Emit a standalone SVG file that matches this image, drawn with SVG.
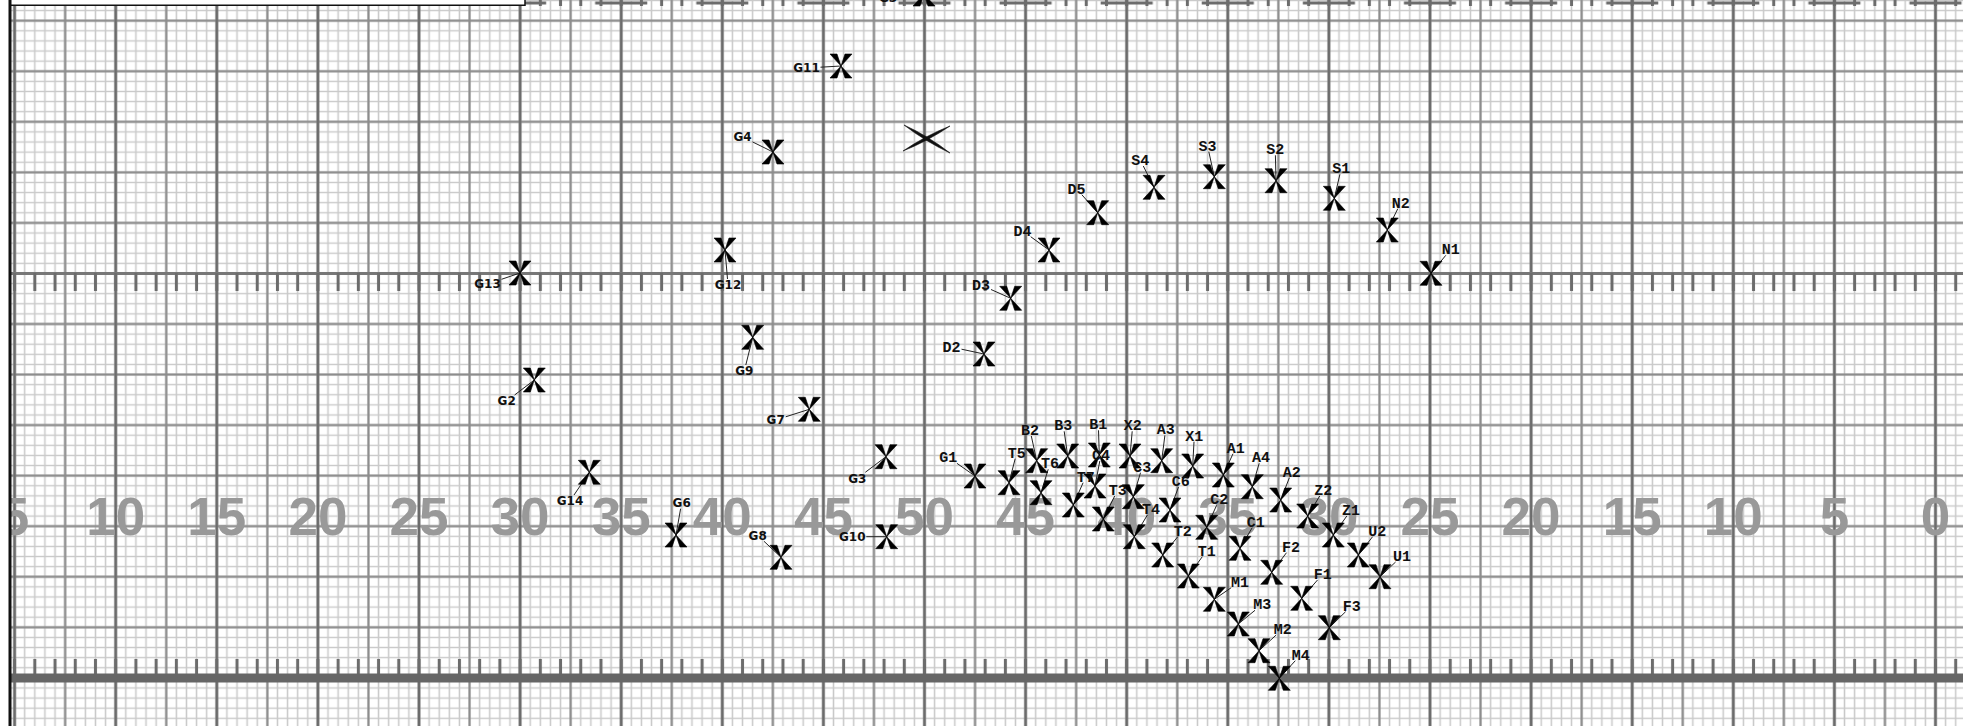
<svg xmlns="http://www.w3.org/2000/svg" xmlns:xlink="http://www.w3.org/1999/xlink" width="1963" height="726" viewBox="0 0 1963 726">
<style>
.m{font-family:"Liberation Mono","DejaVu Sans Mono",monospace;font-weight:bold;font-size:15px;fill:#111;text-anchor:middle}
.g{font-family:"DejaVu Sans","Liberation Sans",sans-serif;font-weight:bold;font-size:12px;fill:#111;text-anchor:middle}
.num{font-family:"Liberation Sans",Arial,sans-serif;font-weight:bold;font-size:53px;fill:#999;text-anchor:middle}
#leaders line{stroke:#222;stroke-width:1}
</style>
<defs>
<pattern id="pMinor" patternUnits="userSpaceOnUse" x="9.545" y="15.645" width="10.11" height="10.11"><path d="M5.055,0V10.11M0,5.055H10.11" stroke="#c9c9c9" stroke-width="1.5" fill="none"/></pattern>
<pattern id="pMidV" patternUnits="userSpaceOnUse" x="-10.675" y="0" width="50.55" height="20"><path d="M25.275,0V20" stroke="#8c8c8c" stroke-width="2.2"/></pattern>
<pattern id="pMidH" patternUnits="userSpaceOnUse" x="0" y="-4.575" width="20" height="50.55"><path d="M0,25.275H20" stroke="#8c8c8c" stroke-width="2.2"/></pattern>
<pattern id="pDarkV" patternUnits="userSpaceOnUse" x="-35.95" y="0" width="101.1" height="20"><path d="M50.55,0V20" stroke="#6c6c6c" stroke-width="2.6"/></pattern>
<pattern id="pTick" patternUnits="userSpaceOnUse" x="4.49" y="0" width="20.22" height="20"><path d="M10.11,0V20" stroke="#6c6c6c" stroke-width="3"/></pattern>
<pattern id="pTopSeg" patternUnits="userSpaceOnUse" x="-35.95" y="0" width="101.1" height="8"><path d="M24.5,3H76.6" stroke="#6c6c6c" stroke-width="3"/></pattern>
<path id="xm" d="M0,0L-11,-12H-4ZM0,0L4,-12H11ZM0,0L-11,12H-4ZM0,0L4,12H11Z" fill="#000" stroke="#000" stroke-width="0.6"/>
</defs>
<rect width="1963" height="726" fill="#fff"/>
<g id="grid">
<rect x="11" y="0" width="1952" height="726" fill="url(#pMinor)"/>
<rect x="11" y="0" width="1952" height="726" fill="url(#pMidH)"/>
<rect x="11" y="0" width="1952" height="726" fill="url(#pMidV)"/>
<rect x="11" y="0" width="1952" height="726" fill="url(#pDarkV)"/>
</g>
<g id="scale-numbers">
<text class="num" x="14.6" y="535">5</text>
<text class="num" x="115.7" y="535">10</text>
<text class="num" x="216.8" y="535">15</text>
<text class="num" x="317.9" y="535">20</text>
<text class="num" x="419" y="535">25</text>
<text class="num" x="520.1" y="535">30</text>
<text class="num" x="621.2" y="535">35</text>
<text class="num" x="722.3" y="535">40</text>
<text class="num" x="823.4" y="535">45</text>
<text class="num" x="924.5" y="535">50</text>
<text class="num" x="1025.6" y="535">45</text>
<text class="num" x="1126.7" y="535">40</text>
<text class="num" x="1227.8" y="535">35</text>
<text class="num" x="1328.9" y="535">30</text>
<text class="num" x="1430" y="535">25</text>
<text class="num" x="1531.1" y="535">20</text>
<text class="num" x="1632.2" y="535">15</text>
<text class="num" x="1733.3" y="535">10</text>
<text class="num" x="1834.4" y="535">5</text>
<text class="num" x="1935.5" y="535">0</text>
</g>
<g id="rulers">
<rect x="525" y="0" width="1438" height="6" fill="url(#pTick)"/>
<rect x="525" y="0" width="1438" height="8" fill="url(#pTopSeg)"/>
<line x1="11" y1="273.4" x2="1963" y2="273.4" stroke="#777" stroke-width="3"/>
<rect x="11" y="273" width="1952" height="18" fill="url(#pTick)"/>
<rect x="11" y="659" width="1952" height="19" fill="url(#pTick)"/>
<line x1="11" y1="678" x2="1963" y2="678" stroke="#666" stroke-width="9"/>
</g>
<g id="frame">
<rect x="0" y="0" width="9" height="726" fill="#fff"/>
<rect x="0" y="0" width="525" height="5" fill="#fff"/>
<path d="M9,5.2H525V0" fill="none" stroke="#111" stroke-width="1.5"/>
<line x1="10" y1="0" x2="10" y2="726" stroke="#111" stroke-width="3"/>
</g>
<g id="leaders">
<line x1="897" y1="-1" x2="924" y2="-6"/>
<line x1="820.5" y1="67.2" x2="841" y2="66"/>
<line x1="752.5" y1="141.9" x2="773" y2="152"/>
<line x1="501.5" y1="279.3" x2="520" y2="273"/>
<line x1="727.5" y1="279" x2="725" y2="250"/>
<line x1="745.8" y1="365" x2="752.7" y2="337.3"/>
<line x1="514.6" y1="395" x2="534.3" y2="380"/>
<line x1="785.7" y1="416.8" x2="809.3" y2="409.3"/>
<line x1="574" y1="495" x2="589.3" y2="472.3"/>
<line x1="865.3" y1="472.3" x2="886" y2="456.7"/>
<line x1="680.6" y1="508.7" x2="676" y2="535"/>
<line x1="764" y1="541.3" x2="781" y2="557.3"/>
<line x1="866.3" y1="536.7" x2="886.7" y2="536.7"/>
<line x1="956.9" y1="463.3" x2="975" y2="476"/>
<line x1="961.5" y1="349.2" x2="984" y2="354"/>
<line x1="991" y1="289.5" x2="1010.7" y2="298.3"/>
<line x1="1030.7" y1="236.7" x2="1049" y2="250"/>
<line x1="1081.8" y1="194.7" x2="1097.7" y2="212.7"/>
<line x1="1143.3" y1="166" x2="1154" y2="187.3"/>
<line x1="1208.8" y1="151.7" x2="1214.3" y2="176.7"/>
<line x1="1275.4" y1="155.3" x2="1276" y2="180.7"/>
<line x1="1339.9" y1="174.3" x2="1334.3" y2="198.3"/>
<line x1="1397.8" y1="208.7" x2="1387.3" y2="230"/>
<line x1="1445.8" y1="255.3" x2="1431" y2="273.3"/>
<line x1="1015.2" y1="458.7" x2="1009" y2="482.7"/>
<line x1="1031.3" y1="436" x2="1036.7" y2="460.7"/>
<line x1="1048.2" y1="469.3" x2="1041" y2="492.7"/>
<line x1="1064.2" y1="431.3" x2="1067.7" y2="456"/>
<line x1="1098.5" y1="430.3" x2="1099.3" y2="455"/>
<line x1="1099.8" y1="461" x2="1095" y2="486"/>
<line x1="1083.1" y1="482.7" x2="1073.3" y2="505"/>
<line x1="1132.2" y1="431.3" x2="1130" y2="456"/>
<line x1="1140.5" y1="472.7" x2="1133.3" y2="496.7"/>
<line x1="1164.9" y1="435.3" x2="1161.7" y2="460.7"/>
<line x1="1114.7" y1="496" x2="1103.3" y2="519"/>
<line x1="1194" y1="441.7" x2="1192.7" y2="466"/>
<line x1="1147.4" y1="515" x2="1134.3" y2="536.7"/>
<line x1="1178.5" y1="487" x2="1170" y2="510"/>
<line x1="1233" y1="453.7" x2="1223.3" y2="475"/>
<line x1="1259.2" y1="463.3" x2="1252.3" y2="486.7"/>
<line x1="1289.4" y1="477.7" x2="1280.7" y2="500"/>
<line x1="1319.7" y1="496" x2="1307.7" y2="516"/>
<line x1="1216.6" y1="505.3" x2="1206.7" y2="527.3"/>
<line x1="1252.2" y1="527.7" x2="1240" y2="548.3"/>
<line x1="1177.8" y1="536.7" x2="1162.7" y2="555"/>
<line x1="1202.3" y1="556.7" x2="1188.3" y2="576"/>
<line x1="1231.2" y1="587.7" x2="1214.3" y2="599.3"/>
<line x1="1255" y1="610.3" x2="1238.3" y2="624"/>
<line x1="1276.2" y1="635" x2="1259" y2="650.7"/>
<line x1="1295.3" y1="660.7" x2="1279.3" y2="678.3"/>
<line x1="1286.5" y1="552.7" x2="1271.7" y2="572.3"/>
<line x1="1317.5" y1="580" x2="1301.7" y2="598.3"/>
<line x1="1345.6" y1="611.7" x2="1329.3" y2="627.7"/>
<line x1="1346.8" y1="516" x2="1333.3" y2="535"/>
<line x1="1372.6" y1="536.7" x2="1358.3" y2="555"/>
<line x1="1395.6" y1="562" x2="1380" y2="576.7"/>
</g>
<g id="marker-big"><path d="M904,125Q928.1,135.9 950,153Q924.9,141.1 904,125ZM950,126Q927.9,141.1 903,151Q925.1,135.9 950,126Z" fill="#111" stroke="#111" stroke-width="0.6"/></g>
<g id="G5"><use xlink:href="#xm" x="924" y="-6"/><text class="g" x="888" y="2.4">G5</text></g>
<g id="G11"><use xlink:href="#xm" x="841" y="66"/><text class="g" x="806.5" y="72.4">G11</text></g>
<g id="G4"><use xlink:href="#xm" x="773" y="152"/><text class="g" x="742.5" y="141.4">G4</text></g>
<g id="G13"><use xlink:href="#xm" x="520" y="273"/><text class="g" x="487.5" y="288.4">G13</text></g>
<g id="G12"><use xlink:href="#xm" x="725" y="250"/><text class="g" x="728" y="289.4">G12</text></g>
<g id="G9"><use xlink:href="#xm" x="752.7" y="337.3"/><text class="g" x="744.3" y="375.4">G9</text></g>
<g id="G2"><use xlink:href="#xm" x="534.3" y="380"/><text class="g" x="506.7" y="405.4">G2</text></g>
<g id="G7"><use xlink:href="#xm" x="809.3" y="409.3"/><text class="g" x="775.7" y="424.4">G7</text></g>
<g id="G14"><use xlink:href="#xm" x="589.3" y="472.3"/><text class="g" x="570" y="505.4">G14</text></g>
<g id="G3"><use xlink:href="#xm" x="886" y="456.7"/><text class="g" x="857.3" y="482.7">G3</text></g>
<g id="G6"><use xlink:href="#xm" x="676" y="535"/><text class="g" x="681.7" y="507.1">G6</text></g>
<g id="G8"><use xlink:href="#xm" x="781" y="557.3"/><text class="g" x="757.7" y="539.7">G8</text></g>
<g id="G10"><use xlink:href="#xm" x="886.7" y="536.7"/><text class="g" x="852.3" y="541.1">G10</text></g>
<g id="G1"><use xlink:href="#xm" x="975" y="476"/><text class="m" x="948.3" y="462.3">G1</text></g>
<g id="D2"><use xlink:href="#xm" x="984" y="354"/><text class="m" x="951.5" y="352">D2</text></g>
<g id="D3"><use xlink:href="#xm" x="1010.7" y="298.3"/><text class="m" x="981" y="290">D3</text></g>
<g id="D4"><use xlink:href="#xm" x="1049" y="250"/><text class="m" x="1022.5" y="235.7">D4</text></g>
<g id="D5"><use xlink:href="#xm" x="1097.7" y="212.7"/><text class="m" x="1076.5" y="193.7">D5</text></g>
<g id="S4"><use xlink:href="#xm" x="1154" y="187.3"/><text class="m" x="1140.3" y="165">S4</text></g>
<g id="S3"><use xlink:href="#xm" x="1214.3" y="176.7"/><text class="m" x="1207.5" y="150.7">S3</text></g>
<g id="S2"><use xlink:href="#xm" x="1276" y="180.7"/><text class="m" x="1275.3" y="154.3">S2</text></g>
<g id="S1"><use xlink:href="#xm" x="1334.3" y="198.3"/><text class="m" x="1341.3" y="173.3">S1</text></g>
<g id="N2"><use xlink:href="#xm" x="1387.3" y="230"/><text class="m" x="1400.8" y="207.7">N2</text></g>
<g id="N1"><use xlink:href="#xm" x="1431" y="273.3"/><text class="m" x="1450.7" y="254.3">N1</text></g>
<g id="T5"><use xlink:href="#xm" x="1009" y="482.7"/><text class="m" x="1016.7" y="457.7">T5</text></g>
<g id="B2"><use xlink:href="#xm" x="1036.7" y="460.7"/><text class="m" x="1030" y="435">B2</text></g>
<g id="T6"><use xlink:href="#xm" x="1041" y="492.7"/><text class="m" x="1050" y="468.3">T6</text></g>
<g id="B3"><use xlink:href="#xm" x="1067.7" y="456"/><text class="m" x="1063.3" y="430.3">B3</text></g>
<g id="B1"><use xlink:href="#xm" x="1099.3" y="455"/><text class="m" x="1098.3" y="429.3">B1</text></g>
<g id="C4"><use xlink:href="#xm" x="1095" y="486"/><text class="m" x="1101" y="460">C4</text></g>
<g id="T7"><use xlink:href="#xm" x="1073.3" y="505"/><text class="m" x="1085.7" y="481.7">T7</text></g>
<g id="X2"><use xlink:href="#xm" x="1130" y="456"/><text class="m" x="1132.7" y="430.3">X2</text></g>
<g id="C3"><use xlink:href="#xm" x="1133.3" y="496.7"/><text class="m" x="1142.3" y="471.7">C3</text></g>
<g id="A3"><use xlink:href="#xm" x="1161.7" y="460.7"/><text class="m" x="1165.7" y="434.3">A3</text></g>
<g id="T3"><use xlink:href="#xm" x="1103.3" y="519"/><text class="m" x="1117.7" y="495">T3</text></g>
<g id="X1"><use xlink:href="#xm" x="1192.7" y="466"/><text class="m" x="1194.3" y="440.7">X1</text></g>
<g id="T4"><use xlink:href="#xm" x="1134.3" y="536.7"/><text class="m" x="1151" y="514">T4</text></g>
<g id="C6"><use xlink:href="#xm" x="1170" y="510"/><text class="m" x="1180.7" y="486">C6</text></g>
<g id="A1"><use xlink:href="#xm" x="1223.3" y="475"/><text class="m" x="1235.7" y="452.7">A1</text></g>
<g id="A4"><use xlink:href="#xm" x="1252.3" y="486.7"/><text class="m" x="1261" y="462.3">A4</text></g>
<g id="A2"><use xlink:href="#xm" x="1280.7" y="500"/><text class="m" x="1291.7" y="476.7">A2</text></g>
<g id="Z2"><use xlink:href="#xm" x="1307.7" y="516"/><text class="m" x="1323.3" y="495">Z2</text></g>
<g id="C2"><use xlink:href="#xm" x="1206.7" y="527.3"/><text class="m" x="1219.3" y="504.3">C2</text></g>
<g id="C1"><use xlink:href="#xm" x="1240" y="548.3"/><text class="m" x="1255.7" y="526.7">C1</text></g>
<g id="T2"><use xlink:href="#xm" x="1162.7" y="555"/><text class="m" x="1182.7" y="535.7">T2</text></g>
<g id="T1"><use xlink:href="#xm" x="1188.3" y="576"/><text class="m" x="1206.7" y="555.7">T1</text></g>
<g id="M1"><use xlink:href="#xm" x="1214.3" y="599.3"/><text class="m" x="1240" y="586.7">M1</text></g>
<g id="M3"><use xlink:href="#xm" x="1238.3" y="624"/><text class="m" x="1262.3" y="609.3">M3</text></g>
<g id="M2"><use xlink:href="#xm" x="1259" y="650.7"/><text class="m" x="1282.7" y="634">M2</text></g>
<g id="M4"><use xlink:href="#xm" x="1279.3" y="678.3"/><text class="m" x="1300.7" y="659.7">M4</text></g>
<g id="F2"><use xlink:href="#xm" x="1271.7" y="572.3"/><text class="m" x="1291" y="551.7">F2</text></g>
<g id="F1"><use xlink:href="#xm" x="1301.7" y="598.3"/><text class="m" x="1322.7" y="579">F1</text></g>
<g id="F3"><use xlink:href="#xm" x="1329.3" y="627.7"/><text class="m" x="1351.7" y="610.7">F3</text></g>
<g id="Z1"><use xlink:href="#xm" x="1333.3" y="535"/><text class="m" x="1351" y="515">Z1</text></g>
<g id="U2"><use xlink:href="#xm" x="1358.3" y="555"/><text class="m" x="1377.3" y="535.7">U2</text></g>
<g id="U1"><use xlink:href="#xm" x="1380" y="576.7"/><text class="m" x="1402" y="561">U1</text></g>
</svg>
